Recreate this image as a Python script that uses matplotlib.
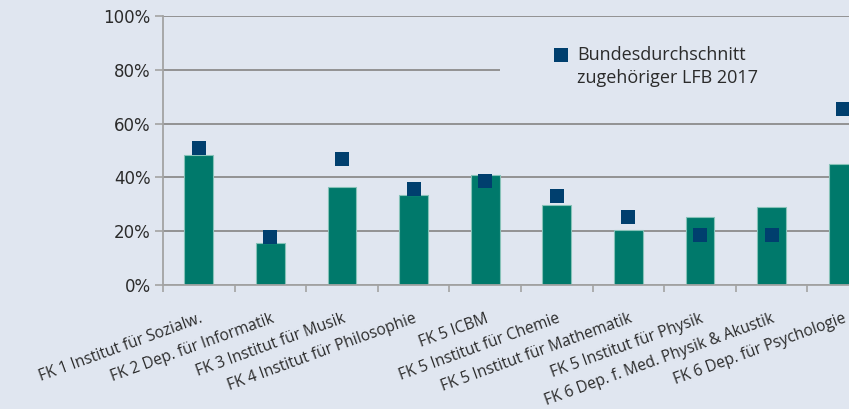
import matplotlib
matplotlib.use("Agg")
import matplotlib.pyplot as plt
from matplotlib.ticker import PercentFormatter, FixedLocator
from matplotlib.lines import Line2D
from matplotlib.patches import Rectangle

categories = [
    "FK 1 Institut für Sozialw.",
    "FK 2 Dep. für Informatik",
    "FK 3 Institut für Musik",
    "FK 4 Institut für Philosophie",
    "FK 5 ICBM",
    "FK 5 Institut für Chemie",
    "FK 5 Institut für Mathematik",
    "FK 5 Institut für Physik",
    "FK 6 Dep. f. Med. Physik & Akustik",
    "FK 6 Dep. für Psychologie",
]
institute_share = [0.483, 0.155, 0.363, 0.333, 0.409, 0.296, 0.203, 0.252, 0.290, 0.450]
federal_average = [0.510, 0.178, 0.468, 0.357, 0.387, 0.330, 0.252, 0.185, 0.185, 0.654]
legend_lines = ["Bundesdurchschnitt", "zugehöriger LFB 2017"]

BG = "#E0E6F0"
GREEN = "#00796B"
BLUE = "#003F6E"
GRID = "#8C8C8C"
AXIS = "#A3A3A3"
TXT = "#2B2B2B"
FONT = ["Open Sans", "DejaVu Sans"]

plt.rcParams["font.family"] = FONT

W, H = 849, 409
fig = plt.figure(figsize=(W / 100, H / 100), dpi=100, facecolor=BG)
x0, x1 = 163, 163 + 10 * 71.6
y0, y1 = 285, 16
ax = fig.add_axes([x0 / W, 1 - y0 / H, (x1 - x0) / W, (y0 - y1) / H])
ax.set_facecolor(BG)

xs = list(range(len(categories)))
ax.bar(xs, institute_share, width=0.4, color=GREEN, edgecolor="#86c2b8",
       linewidth=0.8, zorder=2)
ax.plot(xs, federal_average, linestyle="none", marker="s", markersize=10.5,
        color=BLUE, markeredgewidth=0, zorder=3)

ax.set_xlim(-0.5, len(categories) - 0.5)
ax.set_ylim(0, 1)
ax.yaxis.set_major_locator(FixedLocator([0, 0.2, 0.4, 0.6, 0.8, 1.0]))
ax.yaxis.set_major_formatter(PercentFormatter(1.0, decimals=0))
ax.grid(axis="y", color=GRID, linewidth=1.3)
ax.set_axisbelow(True)

ax.set_xticks(xs)
ax.set_xticklabels(categories, rotation=20, ha="right", va="top",
                   rotation_mode="anchor", fontsize=11.2, color=TXT)
ax.set_xticks([i - 0.5 for i in range(len(categories) + 1)], minor=True)
ax.tick_params(axis="x", which="major", length=0, pad=18.5)
ax.tick_params(axis="x", which="minor", length=5, width=1.2, color=AXIS)
ax.tick_params(axis="y", length=6, width=1.2, color=AXIS, labelsize=12,
               labelcolor=TXT, pad=3)
for lbl in ax.get_yticklabels():
    lbl.set_fontfamily(["DejaVu Sans"])

for s in ["top", "right"]:
    ax.spines[s].set_visible(False)
for s in ["left", "bottom"]:
    ax.spines[s].set_color(AXIS)
    ax.spines[s].set_linewidth(1.3)

# legend area (covers gridline)
ax.add_patch(Rectangle((500 / W, 1 - 105 / H), 349 / W, 70 / H,
                       transform=fig.transFigure, facecolor=BG,
                       edgecolor="none", zorder=1))
fig.add_artist(Line2D([561 / W], [1 - 54.5 / H], marker="s", markersize=9.5,
                      color=BLUE, markeredgewidth=0,
                      transform=fig.transFigure))
fig.text(577 / W, 1 - 60 / H, legend_lines[0], fontsize=13, color=TXT,
         va="baseline", ha="left")
fig.text(577 / W, 1 - 83 / H, legend_lines[1], fontsize=13, color=TXT,
         va="baseline", ha="left")

fig.savefig("out.png", dpi=100, facecolor=BG)
